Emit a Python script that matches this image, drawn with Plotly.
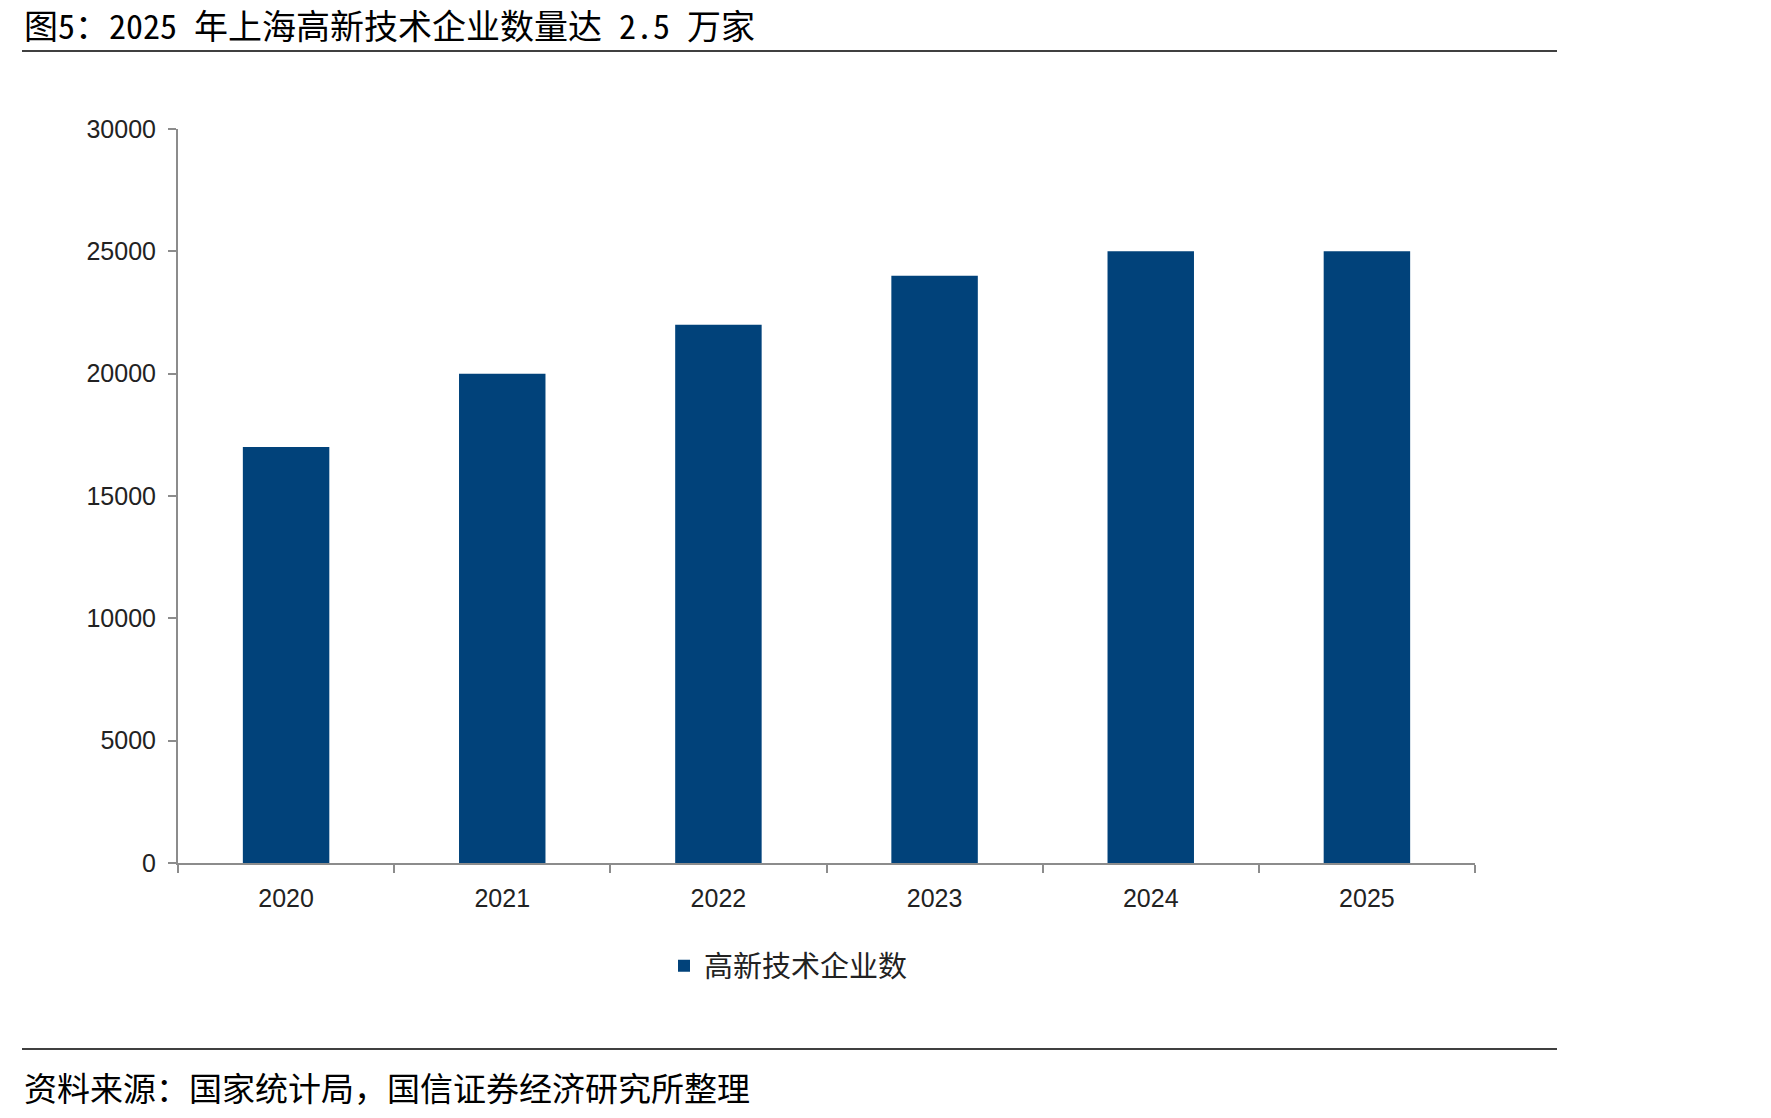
import plotly.graph_objects as go

years = ["2020", "2021", "2022", "2023", "2024", "2025"]
counts = [17000, 20000, 22000, 24000, 25000, 25000]
series_name = "高新技术企业数"
title_text = "图5：2025 年上海高新技术企业数量达 2.5 万家"
source_text = "资料来源：国家统计局，国信证券经济研究所整理"
y_ticks = [0, 5000, 10000, 15000, 20000, 25000, 30000]

W, H = 1771, 1118
L, R, T, B = 178, 1475, 129, 863
pw, ph = R - L, B - T

def px(x):
    return (x - L) / pw

def py(y):
    return (B - y) / ph

bar_color = "#01427A"
axis_color = "#8C8C8C"
cjk = "Noto Sans CJK SC"
mono_cjk = "Noto Sans Mono CJK SC, Noto Sans CJK SC"
latin = "Liberation Sans, Arial"

fig = go.Figure()
fig.add_trace(go.Bar(x=years, y=counts, name=series_name, marker=dict(color=bar_color, line=dict(width=0))))

fig.update_layout(
    width=W, height=H,
    margin=dict(l=L, r=W - R, t=T, b=H - B, pad=0),
    paper_bgcolor="white", plot_bgcolor="white",
    bargap=0.6,
    showlegend=True,
    legend=dict(orientation="h", x=px(664), y=py(966), xanchor="left", yanchor="middle",
                font=dict(family=cjk, size=29, color="#222222"), itemwidth=30,
                bgcolor="rgba(0,0,0,0)"),
    xaxis=dict(type="category", showline=True, linecolor=axis_color, linewidth=2,
               ticks="outside", tickson="boundaries", ticklen=8, tickcolor=axis_color, tickwidth=2,
               tickfont=dict(family=latin, size=25, color="#222222"), showgrid=False,
               ticklabelstandoff=12, zeroline=False),
    yaxis=dict(range=[0, 30000], tickvals=y_ticks, ticktext=[str(v) for v in y_ticks],
               showline=True, linecolor=axis_color, linewidth=2,
               ticks="outside", ticklen=8, tickcolor=axis_color, tickwidth=2,
               tickfont=dict(family=latin, size=25, color="#222222"), showgrid=False,
               zeroline=False, ticklabelstandoff=7),
    shapes=[
        dict(type="line", xref="paper", yref="paper", x0=px(22), x1=px(1557), y0=py(51), y1=py(51),
             line=dict(color="black", width=1.5)),
        dict(type="line", xref="paper", yref="paper", x0=px(22), x1=px(1557), y0=py(1049), y1=py(1049),
             line=dict(color="black", width=1.5)),
    ],
    annotations=[
        dict(text=title_text, xref="paper", yref="paper", x=px(22), y=py(25), xanchor="left", yanchor="middle",
             showarrow=False, font=dict(family=mono_cjk, size=34, color="black")),
        dict(text=source_text, xref="paper", yref="paper", x=px(22), y=py(1087), xanchor="left", yanchor="middle",
             showarrow=False, font=dict(family=cjk, size=33, color="black")),
    ],
)

fig.write_html("out.html")
